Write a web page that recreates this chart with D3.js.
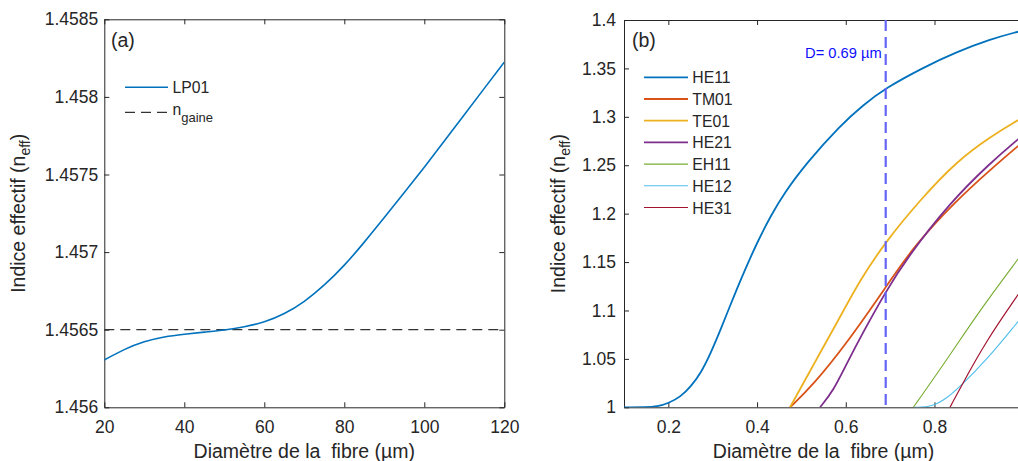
<!DOCTYPE html>
<html><head><meta charset="utf-8">
<script src="https://cdn.jsdelivr.net/npm/d3@7"></script>
<style>
body{margin:0;background:#fff}
svg{display:block}
text{font-family:"Liberation Sans",Arial,Helvetica,sans-serif;fill:#262626}
</style>
</head><body><svg id="c" width="1018" height="461"></svg>
<script>
// ---------- Panel (a) data ----------
const lp01D = [20,25,30,35,40,45,50,55,60,65,70,75,80,85,90,95,100,105,110,115,120];
const lp01N = [1.456305,1.456375,1.456425,1.456455,1.456471,1.456485,1.456497,1.456517,1.456547,1.456600,1.456678,1.456785,1.456912,1.457063,1.457222,1.457383,1.457546,1.457715,1.457885,1.458055,1.458224];
const nGaine = 1.4565;
const aXTicks = [20,40,60,80,100,120];
const aYTicks = [1.456,1.4565,1.457,1.4575,1.458,1.4585];
const aYLabels = ["1.456","1.4565","1.457","1.4575","1.458","1.4585"];

// ---------- Panel (b) data ----------
const he11D = [0.10,0.15,0.175,0.2,0.228,0.2503,0.273,0.2955,0.318,0.3406,0.3631,0.4007,0.4307,0.4608,0.512,0.587,0.64,0.689,0.775,0.85,0.925,0.988,1.0];
const he11N = [1.0,1.0,1.0007,1.0041,1.011,1.0213,1.0351,1.0558,1.0805,1.1065,1.132,1.171,1.1975,1.221,1.2525,1.291,1.3125,1.3295,1.351,1.367,1.380,1.388,1.389];
const tm01D = [0.4743,0.5268,0.602,0.690,0.7524,0.85,0.925,0.988,1.0];
const tm01N = [1.0,1.0234,1.066,1.1239,1.1659,1.214,1.245,1.2699,1.274];
const te01D = [0.4743,0.5268,0.5796,0.632,0.690,0.7674,0.85,0.925,0.988,1.0];
const te01N = [1.0,1.0437,1.0868,1.1315,1.171,1.2141,1.254,1.279,1.2967,1.299];
const he21D = [0.542,0.572,0.602,0.6396,0.690,0.7374,0.836,0.925,0.988,1.0];
const he21N = [1.0,1.017,1.045,1.078,1.1193,1.154,1.212,1.252,1.2768,1.281];
const eh11D = [0.7524,0.8276,0.9027,0.988,1.0];
const eh11N = [1.0,1.049,1.1005,1.1529,1.16];
const he12D = [0.755,0.795,0.8276,0.8576,0.9178,0.988,1.0];
const he12N = [1.0,1.0005,1.0093,1.0213,1.049,1.0884,1.095];
const he31D = [0.835,0.8576,0.9178,0.988,1.0];
const he31N = [1.0,1.0196,1.0695,1.116,1.124];
const modeNames = ["HE11","TM01","TE01","HE21","EH11","HE12","HE31"];
const modeColors = ["#0072BD","#D95319","#EDB120","#7E2F8E","#77AC30","#4DBEEE","#A2142F"];
const modeWidths = [1.8,1.8,1.8,1.8,1.1,1.1,1.2];
const dMarker = 0.69;
const bXTicks = [0.2,0.4,0.6,0.8,1];
const bXLabels = ["0.2","0.4","0.6","0.8",""];
const bYTicks = [1,1.05,1.1,1.15,1.2,1.25,1.3,1.35,1.4];
const bYLabels = ["1","1.05","1.1","1.15","1.2","1.25","1.3","1.35","1.4"];

const svg = d3.select("#c");
svg.append("rect").attr("width",1018).attr("height",461).attr("fill","#fff");
const AX = "#262626";

function drawAxes(x, y, xt, xf, yt, yf, ypad, clipId){
  const g = svg.append("g");
  const [x0,x1] = x.range(), [y0,y1] = y.range();
  const set = sel => sel.attr("font-size",null).attr("font-family",null).attr("color",AX)
     .call(s=>s.selectAll("text").style("font-size","17.5px"))
     .call(s=>s.selectAll("path,line").attr("stroke-width",1));
  g.append("g").attr("transform",`translate(0,${y0})`)
    .call(d3.axisBottom(x).tickValues(xt).tickFormat((d,i)=>xf[i]).tickSizeInner(-5).tickSizeOuter(0).tickPadding(13)).call(set);
  g.append("g").attr("transform",`translate(0,${y1})`)
    .call(d3.axisTop(x).tickValues(xt).tickFormat("").tickSizeInner(-5).tickSizeOuter(0)).call(set);
  g.append("g").attr("transform",`translate(${x0},0)`)
    .call(d3.axisLeft(y).tickValues(yt).tickFormat((d,i)=>yf[i]).tickSizeInner(-5).tickSizeOuter(0).tickPadding(ypad)).call(set);
  g.append("g").attr("transform",`translate(${x1},0)`)
    .call(d3.axisRight(y).tickValues(yt).tickFormat("").tickSizeInner(-5).tickSizeOuter(0)).call(set);
  svg.append("clipPath").attr("id",clipId).append("rect")
    .attr("x",x0).attr("y",y1).attr("width",x1-x0).attr("height",y0-y1);
}

function yLabel(cx, cy){
  const t = svg.append("text").attr("transform",`translate(${cx},${cy}) rotate(-90)`)
    .attr("text-anchor","middle").style("font-size","19.5px");
  t.append("tspan").text("Indice effectif (n");
  t.append("tspan").attr("dy",5).style("font-size","14px").text("eff");
  t.append("tspan").attr("dy",-5).text(")");
}
function xLabel(cx){
  svg.append("text").attr("x",cx).attr("y",458).attr("text-anchor","middle")
    .style("font-size","19.5px").style("white-space","pre").text("Diamètre de la  fibre (µm)");
}

// ---------- Panel (a) ----------
const xa = d3.scaleLinear([20,120],[104.3,504.3]);
const ya = d3.scaleLinear([1.456,1.4585],[407.3,19.3]);
drawAxes(xa, ya, aXTicks, aXTicks.map(String), aYTicks, aYLabels, 6, "clipA");
const pa = svg.append("g").attr("clip-path","url(#clipA)");
pa.append("line").attr("x1",xa(20)).attr("x2",xa(120)).attr("y1",ya(nGaine)).attr("y2",ya(nGaine))
  .attr("stroke","#333").attr("stroke-width",1.3).attr("stroke-dasharray","10,6");
const lineA = d3.line().x((d,i)=>xa(lp01D[i])).y(d=>ya(d)).curve(d3.curveBasis);
pa.append("path").attr("d",lineA(lp01N)).attr("fill","none").attr("stroke","#0072BD").attr("stroke-width",1.6);
svg.append("text").attr("x",111).attr("y",46.5).style("font-size","19.5px").text("(a)");
svg.append("line").attr("x1",125).attr("x2",168).attr("y1",87.3).attr("y2",87.3).attr("stroke","#0072BD").attr("stroke-width",1.6);
svg.append("text").attr("x",172.5).attr("y",93.3).style("font-size","15.75px").text("LP01");
svg.append("line").attr("x1",125).attr("x2",168).attr("y1",112.3).attr("y2",112.3).attr("stroke","#333").attr("stroke-width",1.3).attr("stroke-dasharray","10,6");
const ng = svg.append("text").attr("x",172.5).attr("y",115).style("font-size","15.75px");
ng.append("tspan").text("n");
ng.append("tspan").attr("dy",7).style("font-size","13px").text("gaine");
yLabel(25, 213.3);
xLabel((xa.range()[0]+xa.range()[1])/2);

// ---------- Panel (b) ----------
const xb = d3.scaleLinear([0.1,1.0],[624,1023.2]);
const yb = d3.scaleLinear([1,1.4],[407.3,20]);
drawAxes(xb, yb, bXTicks, bXLabels, bYTicks, bYLabels, 8, "clipB");
const pb = svg.append("g").attr("clip-path","url(#clipB)");
const series = [[he11D,he11N],[tm01D,tm01N],[te01D,te01N],[he21D,he21N],[eh11D,eh11N],[he12D,he12N],[he31D,he31N]];
series.forEach(([D,N],k)=>{
  const ln = d3.line().x((d,i)=>xb(D[i])).y(d=>yb(d)).curve(d3.curveBasis);
  pb.append("path").attr("d",ln(N)).attr("fill","none").attr("stroke",modeColors[k]).attr("stroke-width",modeWidths[k]);
});
pb.append("line").attr("x1",xb(dMarker)).attr("x2",xb(dMarker)).attr("y1",yb(1.4)).attr("y2",yb(1))
  .attr("stroke","#6464f5").attr("stroke-width",2.2).attr("stroke-dasharray","11,6");
svg.append("text").attr("x",xb(dMarker)-4).attr("y",58).attr("text-anchor","end")
  .style("font-size","14.7px").style("fill","#1010ff").text("D= 0.69 µm");
svg.append("text").attr("x",632).attr("y",47).style("font-size","19.5px").text("(b)");
modeNames.forEach((nm,k)=>{
  const ly = 77.3 + k*21.7;
  svg.append("line").attr("x1",644).attr("x2",688).attr("y1",ly).attr("y2",ly).attr("stroke",modeColors[k]).attr("stroke-width",modeWidths[k]);
  svg.append("text").attr("x",692.3).attr("y",ly+6).style("font-size","15.75px").text(nm);
});
yLabel(565, 213.6);
xLabel((xb.range()[0]+xb.range()[1])/2);
</script></body></html>
